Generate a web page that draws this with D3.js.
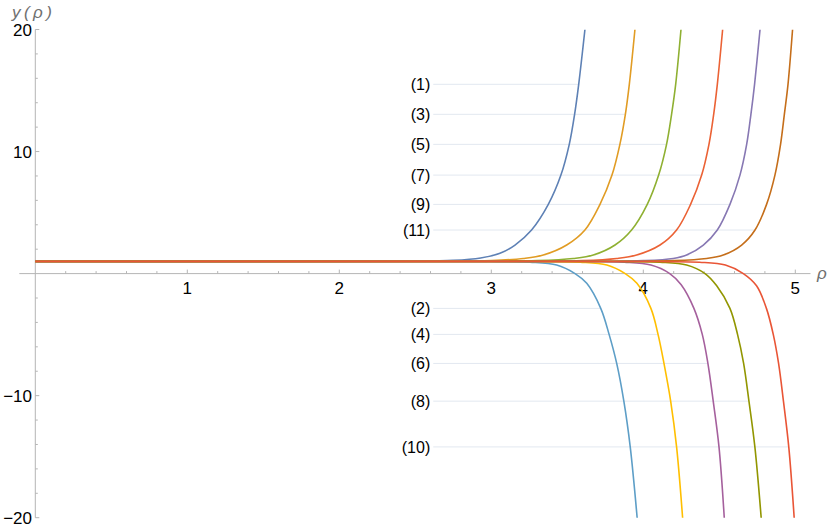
<!DOCTYPE html>
<html>
<head>
<meta charset="utf-8">
<script src="https://cdn.jsdelivr.net/npm/d3@7"></script>
<style>
  body { margin: 0; background: #fff; }
  text { font-family: "Liberation Sans", Arial, sans-serif; }
</style>
</head>
<body>
<div id="chart"></div>
<script>
var width = 830;
var height = 530;

// curves, [rho, y]
var curve1 = [[0,1],[2.45,1.01],[2.75,1.08],[2.93,1.28],[3.057,1.66],[3.156,2.34],[3.265,3.57],[3.375,5.67],[3.458,8.07],[3.513,10.59],[3.548,13.05],[3.575,15.51],[3.616,20]];
var curve3 = [[0,1],[2.7,1.01],[3.0,1.07],[3.21,1.24],[3.342,1.52],[3.496,2.34],[3.616,3.57],[3.715,5.67],[3.794,8.07],[3.846,10.59],[3.882,13.05],[3.908,15.51],[3.945,20]];
var curve5 = [[0,1],[3.0,1.01],[3.3,1.06],[3.539,1.24],[3.671,1.52],[3.814,2.34],[3.923,3.57],[4.026,5.67],[4.101,8.07],[4.153,10.59],[4.186,13.05],[4.213,15.51],[4.248,20]];
var curve7 = [[0,1],[3.3,1.01],[3.6,1.06],[3.825,1.24],[3.956,1.52],[4.110,2.34],[4.219,3.57],[4.311,5.67],[4.384,8.07],[4.432,10.59],[4.463,13.05],[4.487,15.51],[4.522,20]];
var curve9 = [[0,1],[3.7,1.01],[4.0,1.06],[4.197,1.24],[4.285,1.52],[4.395,2.34],[4.487,3.57],[4.570,5.67],[4.636,8.07],[4.680,10.59],[4.708,13.05],[4.732,15.51],[4.768,20]];
var curve11 = [[0,1],[3.9,1.01],[4.2,1.06],[4.417,1.24],[4.526,1.52],[4.647,2.34],[4.735,3.57],[4.811,5.67],[4.866,8.07],[4.903,10.59],[4.928,13.05],[4.952,15.51],[4.982,20]];
var curve2 = [[0,1],[2.8,0.995],[3.05,0.98],[3.255,0.93],[3.43,0.7],[3.551,0],[3.628,-0.8],[3.72,-2.85],[3.775,-4.98],[3.825,-7.36],[3.872,-10.45],[3.914,-14.2],[3.960,-20.07]];
var curve4 = [[0,1],[3.1,0.995],[3.38,0.98],[3.585,0.93],[3.76,0.7],[3.881,0],[3.958,-0.8],[4.05,-2.85],[4.097,-4.98],[4.136,-7.36],[4.180,-10.45],[4.219,-14.2],[4.259,-20.07]];
var curve6 = [[0,1],[3.42,0.995],[3.67,0.98],[3.875,0.93],[4.05,0.7],[4.174,0],[4.248,-0.9],[4.333,-2.85],[4.388,-4.98],[4.425,-7.36],[4.460,-10.45],[4.498,-14.2],[4.533,-20.07]];
var curve8 = [[0,1],[3.65,0.995],[3.9,0.98],[4.11,0.93],[4.285,0.7],[4.406,0],[4.483,-1.0],[4.57,-2.85],[4.62,-4.98],[4.66,-7.36],[4.695,-10.45],[4.734,-14.2],[4.776,-20.07]];
var curve10 = [[0,1],[3.9,0.995],[4.16,0.98],[4.37,0.93],[4.54,0.7],[4.658,0],[4.745,-1.0],[4.81,-2.85],[4.855,-4.98],[4.89,-7.36],[4.922,-10.45],[4.957,-14.2],[4.993,-20.07]];

// plot order (mathematica default colours go by this order)
var curves = [curve1, curve3, curve5, curve7, curve9, curve11, curve2, curve4, curve6, curve8, curve10];
var curveLabels = ["(1)", "(3)", "(5)", "(7)", "(9)", "(11)", "(2)", "(4)", "(6)", "(8)", "(10)"];
var labelLevels = [15.51, 13.05, 10.59, 8.07, 5.67, 3.57, -2.85, -4.98, -7.36, -10.45, -14.2];

var xTicks = [1, 2, 3, 4, 5];
var yTicks = [-20, -10, 10, 20];

var palette = ["#5E81B5", "#E19C24", "#8FB032", "#EB6235", "#8778B3", "#C56E1A",
               "#5D9EC7", "#FFBF00", "#A5609D", "#929600", "#E95536"];

var svg = d3.select("#chart")
            .append("svg")
            .attr("width", width)
            .attr("height", height);

var x = d3.scaleLinear()
    .domain([0, 5])
    .range([35.3, 795.3]);

var y = d3.scaleLinear()
    .domain([-20, 20])
    .range([517.7, 29.5]);

svg.append("clipPath")
    .attr("id", "clip")
    .append("rect")
    .attr("x", 0)
    .attr("y", y(20))
    .attr("width", width)
    .attr("height", y(-20) - y(20));

// where a curve crosses a given level
function crossX(pts, level) {
    for (var i = 1; i < pts.length; i++) {
        var a = pts[i - 1], b = pts[i];
        if ((a[1] - level) * (b[1] - level) <= 0 && a[1] != b[1]) {
            return a[0] + (level - a[1]) * (b[0] - a[0]) / (b[1] - a[1]);
        }
    }
    return pts[pts.length - 1][0];
}

// callout lines + labels
var labelStart = 2.618;
var callouts = svg.append("g");
labelLevels.forEach(function(lv, i) {
    callouts.append("line")
        .attr("x1", x(labelStart))
        .attr("x2", x(crossX(curves[i], lv)))
        .attr("y1", y(lv))
        .attr("y2", y(lv))
        .attr("stroke", "#e2e8f0")
        .attr("stroke-width", 1);
    callouts.append("text")
        .attr("x", x(labelStart) - 3)
        .attr("y", y(lv))
        .attr("dy", "0.35em")
        .attr("text-anchor", "end")
        .attr("font-size", 16)
        .attr("fill", "#000")
        .text(curveLabels[i]);
});

// axes
var axisColor = "#b5b5b5";
var ax = svg.append("g");

ax.append("line")
    .attr("x1", 19.3).attr("x2", x(5.1))
    .attr("y1", y(0)).attr("y2", y(0))
    .attr("stroke", axisColor);
ax.append("line")
    .attr("x1", x(0)).attr("x2", x(0))
    .attr("y1", y(20)).attr("y2", y(-20))
    .attr("stroke", axisColor);

var xMinor = d3.range(1, 26).map(function(d) { return d / 5; });
ax.selectAll(".xtick")
    .data(xMinor)
    .enter()
    .append("line")
    .attr("x1", function(d) { return x(d); })
    .attr("x2", function(d) { return x(d); })
    .attr("y1", y(0))
    .attr("y2", function(d) { return y(0) - (Math.abs(d - Math.round(d)) < 1e-6 ? 4 : 2.5); })
    .attr("stroke", axisColor);

var yMinor = d3.range(-20, 21, 2).filter(function(d) { return d != 0; });
ax.selectAll(".ytick")
    .data(yMinor)
    .enter()
    .append("line")
    .attr("x1", x(0))
    .attr("x2", function(d) { return x(0) + (d % 10 == 0 ? 4 : 2.5); })
    .attr("y1", function(d) { return y(d); })
    .attr("y2", function(d) { return y(d); })
    .attr("stroke", axisColor);

ax.selectAll(".xlab")
    .data(xTicks)
    .enter()
    .append("text")
    .attr("x", function(d) { return x(d); })
    .attr("y", 294)
    .attr("text-anchor", "middle")
    .attr("font-size", 17)
    .attr("fill", "#000")
    .text(function(d) { return d; });

ax.selectAll(".ylab")
    .data(yTicks)
    .enter()
    .append("text")
    .attr("x", 32)
    .attr("y", function(d) { return y(d); })
    .attr("dy", "0.36em")
    .attr("text-anchor", "end")
    .attr("font-size", 17)
    .attr("fill", "#000")
    .text(function(d) { return d < 0 ? "\u2212" + Math.abs(d) : d; });

ax.append("text")
    .attr("x", 12)
    .attr("y", 18)
    .attr("font-size", 17)
    .attr("font-style", "italic")
    .attr("fill", "#707070")
    .attr("textLength", 40)
    .attr("lengthAdjust", "spacing")
    .text("y(\u03C1)");

ax.append("text")
    .attr("x", 817)
    .attr("y", 279)
    .attr("font-size", 17)
    .attr("font-style", "italic")
    .attr("fill", "#707070")
    .text("\u03C1");

// curves
var line = d3.line()
    .x(function(d) { return x(d[0]); })
    .y(function(d) { return y(d[1]); })
    .curve(d3.curveCatmullRom.alpha(0.5));

svg.append("g")
    .attr("clip-path", "url(#clip)")
    .selectAll("path")
    .data(curves)
    .enter()
    .append("path")
    .attr("d", line)
    .attr("fill", "none")
    .attr("stroke", function(d, i) { return palette[i]; })
    .attr("stroke-width", 1.6);
</script>
</body>
</html>
